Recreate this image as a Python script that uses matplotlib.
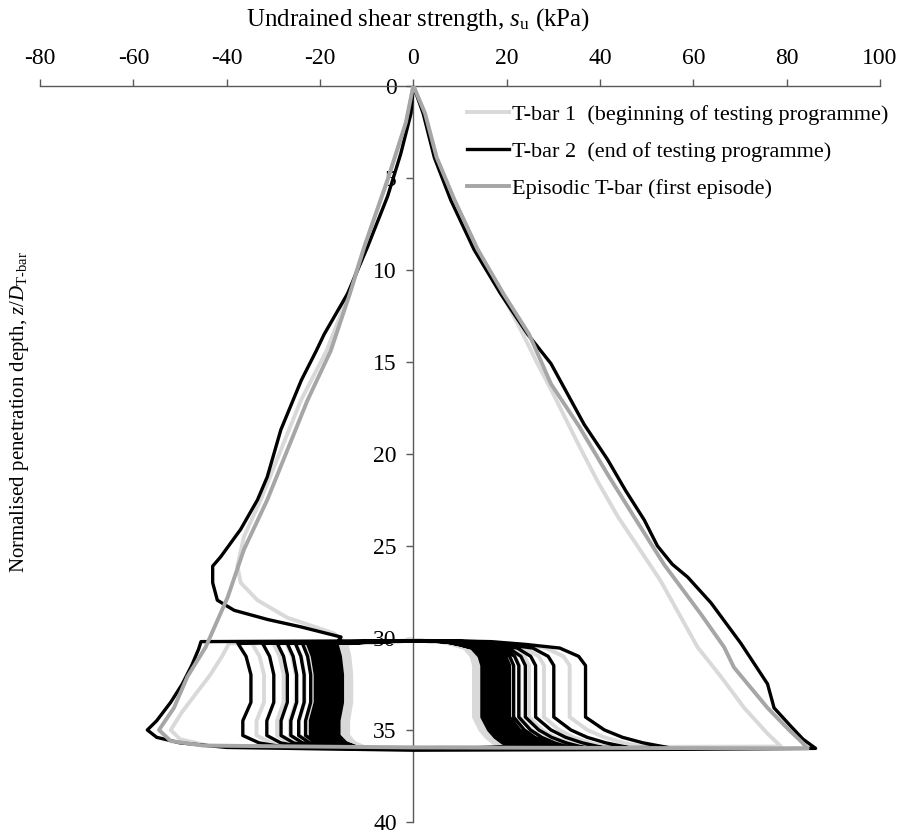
import matplotlib.pyplot as plt

plt.rcParams['font.family'] = ['Liberation Serif', 'DejaVu Serif']
plt.rcParams['mathtext.fontset'] = 'custom'
plt.rcParams['mathtext.rm'] = 'Liberation Serif'
plt.rcParams['mathtext.it'] = 'Liberation Serif:italic'
plt.rcParams['axes.unicode_minus'] = False

# T-bar 1 (beginning of testing programme): monotonic push, first pull, cycles, final pull-out
t1_pen_z = [0, 1.5, 3.9, 6.2, 8.9, 11.3, 13.5, 15.1, 16.5, 19.4, 21.5, 23.4, 25.0, 26.9, 28.5, 30.5, 32.1, 33.8, 35.2, 35.9]
t1_pen_su = [0, 2.5, 5.0, 8.8, 13.8, 19.0, 23.5, 26.6, 29.5, 35.2, 39.5, 43.8, 48.0, 53.0, 56.5, 60.9, 65.9, 70.9, 75.9, 78.8]
t1_rev_z = [35.95, 35.85, 35.5, 35.0, 34.0, 33.0, 32.0, 31.0, 30.3]
t1_rev_su = [0, -44, -50, -52, -49.5, -46.5, -43.5, -41, -39.5]
t1_cyc_pen = [33.5, 28.0, 24.8, 22.7, 21.2, 20.0, 19.0, 18.2, 17.5, 16.8, 16.2, 15.6, 15.1, 14.6, 14.2, 13.8, 13.5, 13.2, 13.0]
t1_cyc_tail = [50, 42, 37, 34, 31.5, 29.5, 28, 27, 26, 25, 24, 23.2, 22.5, 21.8, 21.2, 20.6, 20, 19.5, 19]
t1_cyc_ext = [-32.0, -27.8, -25.2, -23.3, -21.8, -20.6, -19.6, -18.8, -18.0, -17.3, -16.6, -16.0, -15.5, -15.0, -14.5, -14.1, -13.8, -13.5, -13.3]
t1_out_z = [29.75, 28.9, 27.95, 27.0, 26.1, 24.5, 22.5, 19.8, 17.1, 14.4, 11.3, 8.75, 5.1, 2.0, 0]
t1_out_su = [-17, -27, -33.4, -37, -37.7, -36.3, -32.7, -28.4, -24.1, -18.6, -13.8, -10.5, -5.5, -1.5, 0]

# T-bar 2 (end of testing programme)
t2_pen_z = [0, 1.5, 3.9, 6.2, 8.9, 11.3, 13.5, 15.1, 18.4, 20.3, 22.0, 23.6, 25.0, 26.0, 26.7, 28.1, 30.3, 32.5, 33.8, 34.8, 35.5, 36.0]
t2_pen_su = [0, 2.1, 4.5, 8.0, 13.0, 18.7, 24.5, 29.5, 36.6, 41.6, 45.5, 49.5, 52.3, 55.5, 58.8, 63.8, 70.2, 75.9, 77.3, 80.9, 83.5, 86.2]
t2_rev_z = [36.05, 36.1, 35.95, 35.7, 35.4, 35.0, 34.5, 33.5, 32.5, 31.5, 30.6, 30.2]
t2_rev_su = [60, 0, -40, -50, -55, -57, -55, -52, -49.5, -47.5, -46, -45.5]
t2_cyc_pen = [36.9, 30.1, 26.2, 24.0, 22.6, 21.5, 20.6, 20.0, 19.4, 18.9, 18.4, 17.9, 17.4, 17.0, 16.6, 16.2, 15.8, 15.4, 15.0, 14.7]
t2_cyc_tail = [54.5, 46, 40.5, 36.5, 33.5, 31.5, 30, 29, 28, 27, 26.2, 25.5, 24.8, 24.2, 23.6, 23, 22.5, 22, 21.5, 21]
t2_cyc_ext = [-34.8, -29.9, -27.0, -25.0, -23.4, -22.0, -21.0, -20.4, -19.8, -19.2, -18.7, -18.2, -17.7, -17.3, -16.9, -16.5, -16.1, -15.8, -15.5, -15.2]
t2_out_z = [29.95, 29.4, 29.0, 28.5, 27.95, 27.0, 26.1, 25.6, 24.1, 22.5, 21.25, 18.7, 16.0, 14.4, 13.5, 11.3, 8.75, 6.0, 3.7, 1.5, 0]
t2_out_su = [-15.5, -24.1, -31.2, -38.4, -42, -43, -43, -41.3, -37, -33.4, -31.3, -28.4, -24.0, -20.8, -19.1, -14.1, -9.8, -5.5, -2.7, -0.5, 0]

# Episodic T-bar (first episode): push to the base then straight pull-out
ep_pen_z = [0, 1.5, 3.9, 6.2, 8.9, 11.3, 13.5, 16.2, 18.5, 21.1, 23.5, 26.0, 28.7, 30.5, 31.6, 33.8, 35.0, 35.6, 36.0]
ep_pen_su = [0, 2.5, 5.0, 8.8, 13.8, 19.3, 24.8, 29.5, 35.5, 41.6, 47.5, 53.7, 61.6, 66.6, 68.7, 75.9, 80.5, 83.0, 84.5]
ep_out_z = [35.95, 35.85, 35.6, 35.0, 33.8, 32.1, 30.5, 27.8, 25.2, 22.5, 19.8, 17.1, 14.4, 11.3, 8.75, 5.1, 2.0, 0]
ep_out_su = [0, -45, -52, -54.5, -51.3, -48.4, -44.5, -39.8, -36.3, -31.3, -27.0, -22.7, -17.7, -13.6, -10.5, -5.5, -1.6, 0]

x_ticks = [-80, -60, -40, -20, 0, 20, 40, 60, 80, 100]
y_ticks = [0, 5, 10, 15, 20, 25, 30, 35, 40]

# shape of one cycle stroke (depth, fraction of the stroke resistance)
down_z = [30.15, 30.2, 30.35, 30.55, 31.0, 31.5, 34.3]
down_f = [0.0, 0.45, 0.65, 0.85, 0.96, 1.0, 1.0]
tail_z = [35.0, 35.4, 35.7, 35.95]
tail_f = [0.23, 0.45, 0.7, 1.0]
up_z = [36.0, 35.7, 35.3, 34.5, 33.5, 32.0, 31.0, 30.3]
up_f = [0.75, 0.95, 1.05, 1.05, 1.0, 1.0, 1.03, 1.08]


def build_path(pen_z, pen_su, rev_z, rev_su, cyc_pen, cyc_tail, cyc_ext, out_z, out_su):
    z = list(pen_z) + list(rev_z)
    s = list(pen_su) + list(rev_su)
    for p, t, e in zip(cyc_pen, cyc_tail, cyc_ext):
        # push from z/D = 30 down to the base
        z += down_z
        s += [f * p for f in down_f]
        z += tail_z
        s += [p + f * (t - p) for f in tail_f]
        # pull back up to z/D = 30
        z += up_z
        s += [f * e for f in up_f]
    z += list(out_z)
    s += list(out_su)
    return s, z


fig = plt.figure(figsize=(8.99, 8.34), dpi=100)
ax = fig.add_axes([40 / 899, 1 - 822 / 834, 840 / 899, (822 - 85.7) / 834])

s1, z1 = build_path(t1_pen_z, t1_pen_su, t1_rev_z, t1_rev_su, t1_cyc_pen, t1_cyc_tail, t1_cyc_ext, t1_out_z, t1_out_su)
s2, z2 = build_path(t2_pen_z, t2_pen_su, t2_rev_z, t2_rev_su, t2_cyc_pen, t2_cyc_tail, t2_cyc_ext, t2_out_z, t2_out_su)
s3 = ep_pen_su + ep_out_su
z3 = ep_pen_z + ep_out_z

ax.plot(s1, z1, color='#d9d9d9', lw=2.8, solid_joinstyle='round',
        label='T-bar 1  (beginning of testing programme)', zorder=2)
ax.plot(s2, z2, color='black', lw=2.4, solid_joinstyle='round',
        label='T-bar 2  (end of testing programme)', zorder=3)
ax.plot(s3, z3, color='#a6a6a6', lw=2.8, solid_joinstyle='round',
        label='Episodic T-bar (first episode)', zorder=4)

ax.set_xlim(-80, 100)
ax.set_ylim(40, 0)
ax.set_xticks(x_ticks)
ax.set_yticks(y_ticks)
ax.xaxis.tick_top()
ax.spines['left'].set_position(('data', 0))
ax.spines['right'].set_visible(False)
ax.spines['bottom'].set_visible(False)
for sp in ['left', 'top']:
    ax.spines[sp].set_color('#595959')
    ax.spines[sp].set_linewidth(1.0)
ax.tick_params(axis='both', direction='out', length=5, width=1.0, color='#595959',
               labelsize=17, pad=7)
ax.set_facecolor('none')

fig.text(418 / 899, 1 - 20 / 834, r'Undrained shear strength, $s_{\mathrm{u}}$ (kPa)',
         ha='center', va='center', fontsize=18)
fig.text(20 / 899, 1 - 412 / 834, r'Normalised penetration depth, $z/D_{\mathrm{T\text{-}bar}}$',
         ha='center', va='center', rotation=90, fontsize=15)

ax.legend(loc='upper left', bbox_to_anchor=(456 / 899, 1 - 93 / 834),
          bbox_transform=fig.transFigure, frameon=False, fontsize=16,
          handlelength=1.9, handletextpad=0.1, labelspacing=0.75, borderpad=0)

fig.savefig('out.png', dpi=100)
